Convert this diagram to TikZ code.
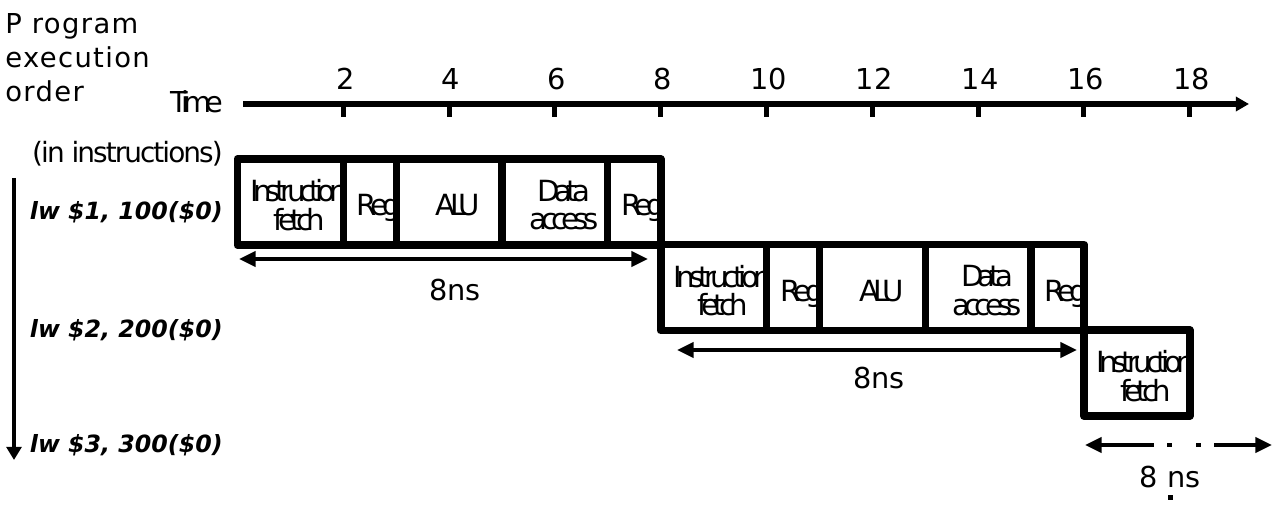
\documentclass[tikz,border=0pt]{standalone}
\usepackage{fontspec}
\setmainfont{DejaVu Sans}
\newfontfamily\tightfont[LetterSpace=-20]{DejaVu Sans}
\newfontfamily\spacedfont[LetterSpace=5]{DejaVu Sans}
\newfontfamily\snugfont[LetterSpace=-7]{DejaVu Sans}
\newfontfamily\lwfont{DejaVu Sans Bold Oblique}
\usetikzlibrary{arrows.meta}

\begin{document}
\begin{tikzpicture}[
  x=0.02cm, y=-0.02cm,
  stg/.style={
    inner sep=0pt, align=center, text depth=0pt,
    font=\tightfont\fontsize{16.6}{16.2}\selectfont
  },
  box/.style={draw, line width=4.5pt, line join=round},
  sep/.style={draw, line width=4pt},
  num/.style={anchor=base, inner sep=0pt, font=\fontsize{16.4}{18}\selectfont},
  lwlbl/.style={anchor=base east, inner sep=0pt, font=\lwfont\fontsize{13.5}{16}\selectfont},
  axarr/.style={line width=3.4pt, -{Triangle[length=7.5pt,width=8pt]}},
  tk/.style={line width=2.8pt},
  ordarr/.style={line width=2.8pt, -{Triangle[length=7.5pt,width=8.5pt]}},
  dim/.style={
    line width=2.5pt,
    {Triangle[length=9.5pt,width=8.5pt]}-{Triangle[length=9.5pt,width=8.5pt]}
  }
]
  \useasboundingbox (0,0) rectangle (1279,513);

  \node[anchor=north west, inner sep=0pt, align=left,
    font=\spacedfont\fontsize{15.6}{19.5}\selectfont] (prog) at (5,13)
    {P rogram\\execution\\order};
  \node[anchor=base east, inner sep=0pt,
    font=\tightfont\fontsize{16.4}{18}\selectfont] (time) at (224,113) {Time};
  \node[anchor=base east, inner sep=0pt,
    font=\snugfont\fontsize{15.9}{18}\selectfont] (unit) at (223,163) {(in instructions)};

  \coordinate (t0) at (243,104);
  \coordinate (t1) at (1249,104);
  \draw[axarr] (t0) -- (t1);
  \foreach \t in {2,4,...,18} {
    \draw[tk] ({237.5+52.9*\t},104) -- ++(0,13);
    \node[num] (n\t) at ({239.5+52.9*\t},90) {\t};
  }

  \node[lwlbl] (lw1) at (223,220) {lw \$1, 100(\$0)};
  \node[lwlbl] (lw2) at (223,338) {lw \$2, 200(\$0)};
  \node[lwlbl] (lw3) at (223,453) {lw \$3, 300(\$0)};
  \coordinate (o0) at (14,178);
  \coordinate (o1) at (14,460);
  \draw[ordarr] (o0) -- (o1);

  \foreach \row/\off in {1/0,2/8} {
    \foreach \st/\ta/\tb/\lbl in {if/0/2/{Instruction\\fetch},reg/2/3/Reg,alu/3/5/ALU,dm/5/7/{Data\\access},wb/7/8/Reg}
      \node[stg] (\st\row) at ({246.5+52.9*(\off+(\ta+\tb)/2)},{205+85.5*(\row-1)}) {\lbl};
    \draw[box] ({237.5+52.9*\off},{159+85.5*(\row-1)}) rectangle ++(423.2,86);
    \foreach \t in {2,3,5,7}
      \draw[sep] ({237.5+52.9*(\off+\t)},{159+85.5*(\row-1)}) -- ++(0,86);
  }
  \node[stg] (if3) at ({246.5+52.9*17},376) {Instruction\\fetch};
  \draw[box] ({237.5+52.9*16},330) rectangle ++(105.8,86);

  \coordinate (d1a) at (239,259);
  \coordinate (d1b) at (648,259);
  \draw[dim] (d1a) -- (d1b);
  \node[num] (ns1) at (455,301) {8ns};
  \coordinate (d2a) at (677,350);
  \coordinate (d2b) at (1077,350);
  \draw[dim] (d2a) -- (d2b);
  \node[num] (ns2) at (879,389) {8ns};
  \coordinate (d3a) at (1085,445);
  \coordinate (d3b) at (1272,445);
  \draw[dim, dash pattern=on 30.6pt off 7.4pt on 2.8pt off 13.6pt on 2.8pt off 7.4pt on 60pt]
    (d3a) -- (d3b);
  \node[num] (ns3) at (1170,487) {8 ns};
  \fill (1167.5,495) rectangle ++(5,5);
\end{tikzpicture}
\end{document}
